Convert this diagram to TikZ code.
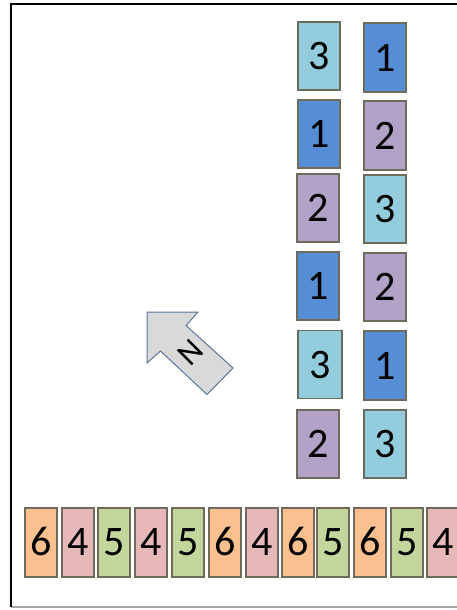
\documentclass[tikz,border=0pt]{standalone}
\usepackage{fontspec}
\setmainfont{Carlito}
\definecolor{cLB}{HTML}{93CDDD}
\definecolor{cB}{HTML}{558ED5}
\definecolor{cP}{HTML}{B3A2C7}
\definecolor{cO}{HTML}{FAC090}
\definecolor{cK}{HTML}{E6B9B8}
\definecolor{cG}{HTML}{C3D69B}
\definecolor{cEdge}{HTML}{6E6B5C}
\definecolor{cArrowEdge}{HTML}{5B7698}
\definecolor{cArrowFill}{HTML}{D9D9D9}
\tikzset{
  tile/.style={draw=cEdge, line width=1.1pt, inner sep=0pt,
    font=\fontsize{42}{46}\selectfont, text depth=0pt, text height=0pt},
  vtile/.style={tile, minimum width=42pt, minimum height=68pt},
  htile/.style={tile, minimum width=32pt, minimum height=69pt},
  lb/.style={fill=cLB}, bl/.style={fill=cB}, pu/.style={fill=cP},
  orr/.style={fill=cO}, pk/.style={fill=cK}, gr/.style={fill=cG},
}
\begin{document}
\begin{tikzpicture}[x=1pt,y=-1pt]
\useasboundingbox (0,0) rectangle (457,610);
\clip (0,0) rectangle (457,610);
\fill[white] (0,0) rectangle (457,610);
% frame
\draw[gray!70, line width=1.4pt] (11,607) -- (470,607);
\draw[black, line width=2.4pt] (11,607) -- (11,4) -- (470,4);
% left column
\node[vtile,lb] (L1) at (319,56) {\raisebox{-13.5pt}{3}};
\node[vtile,bl] (L2) at (319,134) {\raisebox{-13.5pt}{1}};
\node[vtile,pu] (L3) at (318,208) {\raisebox{-13.5pt}{2}};
\node[vtile,bl] (L4) at (318,286) {\raisebox{-13.5pt}{1}};
\node[vtile,lb,minimum width=44pt] (L5) at (320,364.5) {\raisebox{-13.5pt}{3}};
\node[vtile,pu] (L6) at (318,444) {\raisebox{-13.5pt}{2}};
% right column
\node[vtile,bl,minimum height=69pt] (R1) at (385,57.5) {\raisebox{-13.5pt}{1}};
\node[vtile,pu,minimum height=69pt] (R2) at (385,135.5) {\raisebox{-13.5pt}{2}};
\node[vtile,lb] (R3) at (385,209) {\raisebox{-13.5pt}{3}};
\node[vtile,pu] (R4) at (385,287) {\raisebox{-13.5pt}{2}};
\node[vtile,bl,minimum height=69pt] (R5) at (385,365.5) {\raisebox{-13.5pt}{1}};
\node[vtile,lb] (R6) at (385,444) {\raisebox{-13.5pt}{3}};
% bottom row
\node[htile,orr] (B1) at (41,542.5) {\raisebox{-13pt}{6}};
\node[htile,pk] (B2) at (78,542.5) {\raisebox{-13pt}{4}};
\node[htile,gr] (B3) at (114,542.5) {\raisebox{-13pt}{5}};
\node[htile,pk] (B4) at (151,542.5) {\raisebox{-13pt}{4}};
\node[htile,gr] (B5) at (188,542.5) {\raisebox{-13pt}{5}};
\node[htile,orr] (B6) at (225,542.5) {\raisebox{-13pt}{6}};
\node[htile,pk] (B7) at (262,542.5) {\raisebox{-13pt}{4}};
\node[htile,orr] (B8) at (298,542.5) {\raisebox{-13pt}{6}};
\node[htile,gr] (B9) at (333,542.5) {\raisebox{-13pt}{5}};
\node[htile,orr] (B10) at (370,542.5) {\raisebox{-13pt}{6}};
\node[htile,gr] (B11) at (407,542.5) {\raisebox{-13pt}{5}};
\node[htile,pk] (B12) at (443,542.5) {\raisebox{-13pt}{4}};
% north arrow
\draw[draw=cArrowEdge, fill=cArrowFill, line width=1pt, line join=miter]
  (147,312) -- (198,312) -- (186,325.5) -- (233,368) -- (207,394.5)
  -- (160.5,351) -- (147,363) -- cycle;
\node[rotate=45, font=\fontsize{33}{36}\selectfont, inner sep=0pt] (N) at (191,352) {N};
\end{tikzpicture}
\end{document}
